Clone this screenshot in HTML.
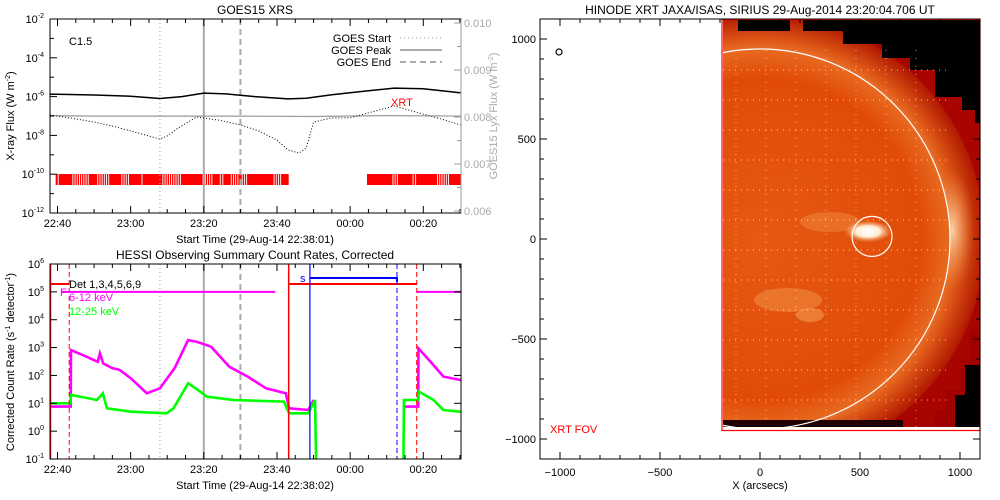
<!DOCTYPE html>
<html><head><meta charset="utf-8">
<style>
html,body{margin:0;padding:0;background:#fff;}
svg{display:block;font-family:"Liberation Sans",sans-serif;}
</style></head>
<body>
<svg id="s" width="1000" height="500" viewBox="0 0 1000 500">
<defs>
<clipPath id="imgclip"><rect x="723" y="19" width="257" height="409"/></clipPath>
<clipPath id="topclip"><rect x="50" y="19" width="411" height="194"/></clipPath>
<clipPath id="botclip"><rect x="50" y="264" width="411" height="195"/></clipPath>
<radialGradient id="disk" cx="0.5" cy="0.5" r="0.5">
<stop offset="0" stop-color="#e65a12"/>
<stop offset="0.85" stop-color="#e04c08"/>
<stop offset="1" stop-color="#e86a20"/>
</radialGradient>
<radialGradient id="corona" cx="0.5" cy="0.5" r="0.5">
<stop offset="0.8" stop-color="#f08a40"/>
<stop offset="0.88" stop-color="#e05a18"/>
<stop offset="1" stop-color="#b01800"/>
</radialGradient>
<radialGradient id="blob" cx="0.5" cy="0.5" r="0.5">
<stop offset="0" stop-color="#ffffff"/>
<stop offset="0.5" stop-color="#fff0d8"/>
<stop offset="1" stop-color="#f8a060" stop-opacity="0"/>
</radialGradient>
<radialGradient id="glow" cx="0.5" cy="0.5" r="0.5">
<stop offset="0" stop-color="#fbd0a8"/>
<stop offset="1" stop-color="#f08a40" stop-opacity="0"/>
</radialGradient>
</defs>
<g id="gtop"></g>
<g id="gbot"></g>
<g id="gimg"></g>
</svg>
<script>
// ---------- GOES data (t = minutes after 22:40, log10 flux) ----------
const goesLongT = [-2,0,10,20,28,34,40,46,54,63,68,75,85,92,100,110,112];
const goesLongV = [-5.88,-5.88,-5.92,-5.98,-6.1,-6.0,-5.82,-5.86,-6.0,-6.12,-6.08,-5.9,-5.7,-5.56,-5.6,-5.8,-5.87];
const goesShortT = [-2,0,5,10,15,20,25,28,30,33,38,44,50,55,60,63,66,68,70,75,80,86,92,100,106,112];
const goesShortV = [-6.95,-7.0,-7.15,-7.31,-7.52,-7.77,-8.03,-8.19,-8.03,-7.62,-7.05,-7.21,-7.46,-7.77,-8.24,-8.75,-8.91,-8.65,-7.31,-7.1,-7.1,-6.79,-6.48,-6.9,-7.21,-7.57];
const lyxT = [-2,10,30,50,70,90,112];
const lyxV = [0.00803,0.00802,0.00802,0.00802,0.00801,0.00803,0.00802];
const goesTickLabels = ["22:40","23:00","23:20","23:40","00:00","00:20"];
const goesYLabels = [-2,-4,-6,-8,-10,-12];
const lyxLabels = ["0.010","0.009","0.008","0.007","0.006"];
const lyxTickVals = [0.010,0.009,0.008,0.007,0.006];
const xrtBands = [[-0.5,63.2],[84.6,112]];
const xrtGaps = [0.2,4.2,4.8,5.4,6.0,6.6,7.2,7.8,8.4,11.0,11.6,12.2,12.8,13.4,14.0,17.6,18.2,18.8,19.4,23.1,28.8,29.4,30.0,30.6,31.2,31.8,32.4,33.0,33.6,39.8,40.4,41.0,41.6,42.2,44.5,45.2,47.5,48.1,48.7,49.3,50.5,51.1,51.7,59.2,59.8,60.4,61.0,91.7,92.3,92.9,97.2,97.9,103.9,104.5,105.1,105.7,106.3,106.9];
const flareStart = 28, flarePeak = 40, flareEnd = 50;
// ---------- HESSI data (log10 counts) ----------
const lowT = [-2,3.6,3.7,8,11,11.6,12.5,15,17,20,24.4,28,32,35.7,38,42,47,52,57,62.4,63.3,68.6,70];
const lowV = [0.88,0.88,2.91,2.67,2.49,2.79,2.43,2.26,2.2,1.9,1.36,1.54,2.26,3.27,3.21,3.03,2.31,1.96,1.54,1.36,0.82,0.76,1.12];
const lowT2 = [94.7,98.6,98.7,102.8,105.5,110,112];
const lowV2 = [0.88,0.88,2.97,2.37,1.96,1.84,1.78];
const highT = [-2,3.5,3.7,10.8,12.4,13.5,20,29.8,31.7,34.4,35.7,39,40.8,48,61.9,63.3,68.6,70.4,70.7];
const highV = [1.0,1.0,1.3,1.12,1.36,0.82,0.7,0.64,0.82,1.42,1.72,1.42,1.24,1.12,1.06,0.64,0.64,1.12,-1];
const highT2 = [94.6,94.7,98.6,98.8,102.8,105.5,110,112];
const highV2 = [-1,1.12,1.12,1.42,1.12,0.76,0.70,0.70];
const hessiYLabels = [6,5,4,3,2,1,0,-1];
const attStates = [[-2,3.2],[63.2,98.2]];
const saaInterval = [69,92.8];
// ---------- XRT map ----------
const mapTicks = [-1000,-500,0,500,1000];
const flareXY = [560,13];

const NS='http://www.w3.org/2000/svg';
const gTop=document.getElementById('gtop'), gBot=document.getElementById('gbot'), gImg=document.getElementById('gimg');
function el(tag,attrs,parent){const e=document.createElementNS(NS,tag);for(const k in attrs)e.setAttribute(k,attrs[k]);parent.appendChild(e);return e;}
function txt(parent,x,y,s,attrs){const e=el('text',Object.assign({x:x,y:y},attrs||{}),parent);e.textContent=s;return e;}
const xT=t=>57.5+t*3.658;
const yTop=l=>19+(-2-l)*19.4;
const yLyx=v=>23+(0.010-v)*47000;
const yBot=l=>264+(6-l)*27.86;

let e;
e=txt(gTop,255,14,'GOES15 XRS',{'text-anchor':'middle','font-size':'12'});


xrtBands.forEach(b=>{
 e=el('rect',{x:xT(b[0]),y:174,width:Math.min(461,xT(b[1]))-xT(b[0]),height:11,fill:'#ff0000'},gTop);
 
 
});
xrtGaps.forEach(g=>{
 e=el('line',{x1:xT(g),x2:xT(g),y1:174,y2:185,stroke:'#fff','stroke-width':0.9},gTop);
 
 
});
function flareLines(g,y1,y2){
 e=el('line',{x1:xT(flareStart),x2:xT(flareStart),y1:y1,y2:y2,stroke:'#aaa','stroke-width':1.2,'stroke-dasharray':'1 3'},g);
 
 
 e=el('line',{x1:xT(flarePeak),x2:xT(flarePeak),y1:y1,y2:y2,stroke:'#aaa','stroke-width':2},g);
 
 
 e=el('line',{x1:xT(flareEnd),x2:xT(flareEnd),y1:y1,y2:y2,stroke:'#aaa','stroke-width':2,'stroke-dasharray':'6 4'},g);
 
 
}
flareLines(gTop,19,213);
function pts(T,V,fx,fy){return T.map((t,i)=>fx(t).toFixed(1)+','+fy(V[i]).toFixed(1)).join(' ');}
e=el('polyline',{points:pts(lyxT,lyxV,xT,yLyx),fill:'none',stroke:'#999','stroke-width':1.2,'clip-path':'url(#topclip)'},gTop);


e=el('polyline',{points:pts(goesLongT,goesLongV,xT,yTop),fill:'none',stroke:'#000','stroke-width':1.5,'clip-path':'url(#topclip)'},gTop);


e=el('polyline',{points:pts(goesShortT,goesShortV,xT,yTop),fill:'none',stroke:'#000','stroke-width':1,'stroke-dasharray':'1 2','clip-path':'url(#topclip)'},gTop);


e=el('rect',{x:50,y:19,width:411,height:194,fill:'none',stroke:'#000','stroke-width':1},gTop);


el('line',{x1:461,x2:461,y1:19,y2:213,stroke:'#999','stroke-width':1},gTop);
function xTicks(g,yb,yt,labelY){
 for(let m=0;m<=110;m+=5){const x=xT(m);const L=m%20==0?7:4;
  el('line',{x1:x,x2:x,y1:yb,y2:yb-L,stroke:'#000'},g);
  el('line',{x1:x,x2:x,y1:yt,y2:yt+L,stroke:'#000'},g);}
 goesTickLabels.forEach((s,i)=>{e=txt(g,xT(i*20),labelY,s,{'text-anchor':'middle','font-size':'11'});
  
  });
}
xTicks(gTop,213,19,227);
for(let l=-2;l>=-12;l--){const y=yTop(l);const L=l%2==0?7:4;el('line',{x1:50,x2:50+L,y1:y,y2:y,stroke:'#000'},gTop);}
goesYLabels.forEach(l=>{const y=yTop(l);
 e=el('text',{x:44,y:y+4,'text-anchor':'end','font-size':'11'},gTop);
 
 
 e.textContent='10';const ts=el('tspan',{dy:-5,'font-size':'7'},e);ts.textContent=String(l);});
for(let v=0.006;v<=0.01001;v+=0.0005){const y=yLyx(v);const L=Math.round(v*10000)%10==0?7:4;el('line',{x1:461,x2:461-L,y1:y,y2:y,stroke:'#999'},gTop);}
lyxLabels.forEach((s,i)=>{e=txt(gTop,464,yLyx(lyxTickVals[i])+4,s,{'font-size':'11',fill:'#aaa'});
 
 });
e=txt(gTop,0,0,'',{transform:'translate(14,116) rotate(-90)','text-anchor':'middle','font-size':'11'});
e.innerHTML='X-ray Flux (W m<tspan dy="-4" font-size="7">-2</tspan><tspan dy="4">)</tspan>';


e=txt(gTop,0,0,'',{transform:'translate(497,116) rotate(-90)','text-anchor':'middle','font-size':'11',fill:'#aaa'});
e.innerHTML='GOES15 Lyx Flux (W m<tspan dy="-4" font-size="7">-2</tspan><tspan dy="4">)</tspan>';


e=txt(gTop,255,243,'Start Time (29-Aug-14 22:38:01)',{'text-anchor':'middle','font-size':'11'});


e=txt(gTop,69,45,'C1.5',{'font-size':'11'});


e=txt(gTop,391,106,'XRT',{'font-size':'11',fill:'#f00'});


[['GOES Start','1 3',1.2,45],['GOES Peak','',2,57],['GOES End','6 4',2,69]].forEach(d=>{
 const g=el('g',{},gTop);
 
 
 txt(g,391,d[3]-3,d[0],{'text-anchor':'end','font-size':'11'});
 el('line',{x1:400,x2:442,y1:d[3]-7,y2:d[3]-7,stroke:'#aaa','stroke-width':d[2],'stroke-dasharray':d[1]},g);
});

// ===== BOTTOM PANEL =====
e=txt(gBot,255,259,'HESSI Observing Summary Count Rates, Corrected',{'text-anchor':'middle','font-size':'12'});


flareLines(gBot,264,459);
[[lowT,lowV,'#ff00ff','low-energy-6-12kev'],[lowT2,lowV2,'#ff00ff','low-energy-6-12kev'],[highT,highV,'#00ff00','high-energy-12-25kev'],[highT2,highV2,'#00ff00','high-energy-12-25kev']].forEach(d=>{
 e=el('polyline',{points:pts(d[0],d[1],xT,yBot),fill:'none',stroke:d[2],'stroke-width':2.6,'clip-path':'url(#botclip)'},gBot);
 
 
});
attStates.forEach(a=>{
 e=el('line',{x1:xT(a[0]),x2:xT(a[1]),y1:284,y2:284,stroke:'#f00','stroke-width':2,'clip-path':'url(#botclip)'},gBot);
 
 
 e=el('line',{x1:xT(a[1]),x2:xT(a[1]),y1:264,y2:459,stroke:'#f00','stroke-width':1,'stroke-dasharray':'5 3'},gBot);
 
 
});
e=el('line',{x1:50.5,x2:50.5,y1:264,y2:459,stroke:'#f00','stroke-width':1.5},gBot);


e=el('line',{x1:xT(63.2),x2:xT(63.2),y1:264,y2:459,stroke:'#f00','stroke-width':1.5},gBot);


[[1,59.5],[98.2,112]].forEach(a=>{
 e=el('line',{x1:xT(a[0]),x2:xT(a[1]),y1:yBot(5),y2:yBot(5),stroke:'#ff00ff','stroke-width':2,'clip-path':'url(#botclip)'},gBot);
 
 
});
e=el('line',{x1:xT(saaInterval[0]),x2:xT(saaInterval[0]),y1:264,y2:459,stroke:'#00f','stroke-width':1.2},gBot);


e=el('polyline',{points:xT(saaInterval[0])+',278 '+xT(saaInterval[1])+',278 '+xT(saaInterval[1])+',282',fill:'none',stroke:'#00f','stroke-width':2},gBot);


e=el('line',{x1:xT(saaInterval[1]),x2:xT(saaInterval[1]),y1:264,y2:459,stroke:'#00f','stroke-width':1,'stroke-dasharray':'5 3'},gBot);


e=txt(gBot,300,282,'s',{'font-size':'11',fill:'#00f'});


e=el('rect',{x:50,y:264,width:411,height:195,fill:'none',stroke:'#000'},gBot);


xTicks(gBot,459,264,473);
hessiYLabels.forEach(l=>{const y=yBot(l);
 el('line',{x1:50,x2:57,y1:y,y2:y,stroke:'#000'},gBot);
 el('line',{x1:461,x2:454,y1:y,y2:y,stroke:'#000'},gBot);
 e=el('text',{x:44,y:y+4,'text-anchor':'end','font-size':'11'},gBot);
 
 
 e.textContent='10';const ts=el('tspan',{dy:-5,'font-size':'7'},e);ts.textContent=String(l);});
e=txt(gBot,0,0,'',{transform:'translate(14,362) rotate(-90)','text-anchor':'middle','font-size':'11'});
e.innerHTML='Corrected Count Rate (s<tspan dy="-4" font-size="7">-1</tspan><tspan dy="4"> detector</tspan><tspan dy="-4" font-size="7">-1</tspan><tspan dy="4">)</tspan>';


e=txt(gBot,255,489,'Start Time (29-Aug-14 22:38:02)',{'text-anchor':'middle','font-size':'11'});


e=txt(gBot,69,288,'Det 1,3,4,5,6,9',{'font-size':'11'});


e=txt(gBot,60,296,'F',{'font-size':'11',fill:'#ff00ff'});


e=txt(gBot,69,301,'6-12 keV',{'font-size':'11',fill:'#ff00ff'});


e=txt(gBot,69,315,'12-25 keV',{'font-size':'11',fill:'#00ff00'});



// ===== XRT MAP =====
const mx=a=>760+a*0.2, my=a=>239-a*0.2;
e=txt(gImg,760,14,'HINODE XRT JAXA/ISAS, SIRIUS 29-Aug-2014 23:20:04.706 UT',{'text-anchor':'middle','font-size':'12'});


const ig=el('g',{'clip-path':'url(#imgclip)'},gImg);


el('rect',{x:723,y:19,width:257,height:409,fill:'#a80400'},ig);
el('circle',{cx:760,cy:239,r:225,fill:'url(#corona)'},ig);
el('polygon',{points:'738,19 738,31 790,31 790,19 803,19 803,31 843,31 843,44 882,44 882,58 910,58 910,70 935,70 935,97 962,97 962,110 975,110 975,123 980,123 980,19',fill:'#000'},ig);
el('polygon',{points:'980,330 970,330 970,360 960,360 960,390 945,390 945,410 935,410 935,428 980,428',fill:'#a00000'},ig);
el('polygon',{points:'980,365 965,365 965,395 955,395 955,428 980,428',fill:'#000'},ig);
el('ellipse',{cx:952,cy:230,rx:22,ry:60,fill:'url(#glow)'},ig);
el('circle',{cx:760,cy:239,r:190,fill:'url(#disk)'},ig);
el('ellipse',{cx:788,cy:300,rx:34,ry:12,fill:'#f08a40',opacity:0.6},ig);
el('ellipse',{cx:810,cy:315,rx:14,ry:7,fill:'#f29a50',opacity:0.6},ig);
el('ellipse',{cx:830,cy:222,rx:30,ry:10,fill:'#f08a40',opacity:0.5},ig);
for(let yy=70;yy<=420;yy+=30){el('line',{x1:723,x2:950,y1:yy,y2:yy,stroke:'#fff','stroke-width':1,'stroke-dasharray':'1 5',opacity:0.7},ig);}
for(let xx=736;xx<=940;xx+=30){el('line',{x1:xx,x2:xx,y1:50,y2:428,stroke:'#fff','stroke-width':1,'stroke-dasharray':'1 7',opacity:0.6},ig);}
el('ellipse',{cx:mx(flareXY[0])-4,cy:my(flareXY[1])-5,rx:24,ry:11,fill:'url(#blob)'},ig);
el('rect',{x:723,y:420,width:180,height:7,fill:'#200000'},ig);
el('rect',{x:723,y:427,width:257,height:3,fill:'#fff'},gImg);
e=el('circle',{cx:760,cy:239,r:190,fill:'none',stroke:'#fff','stroke-width':1.2,'clip-path':'url(#imgclip)'},gImg);


e=el('circle',{cx:mx(flareXY[0]),cy:my(flareXY[1]),r:20,fill:'none',stroke:'#fff','stroke-width':1.2},gImg);


e=el('rect',{x:722,y:19.5,width:258,height:411,fill:'none',stroke:'#f00','stroke-width':1.2},gImg);


e=el('rect',{x:540,y:19,width:440,height:440,fill:'none',stroke:'#000'},gImg);


for(let a=-1000;a<=1000;a+=100){const L=a%500==0?7:4;
 el('line',{x1:mx(a),x2:mx(a),y1:459,y2:459-L,stroke:'#000'},gImg);
 el('line',{x1:mx(a),x2:mx(a),y1:19,y2:19+L,stroke:'#000'},gImg);
 el('line',{x1:540,x2:540+L,y1:my(a),y2:my(a),stroke:'#000'},gImg);
 el('line',{x1:980,x2:980-L,y1:my(a),y2:my(a),stroke:'#000'},gImg);}
mapTicks.forEach(a=>{
 e=txt(gImg,mx(a),476,String(a).replace('-','\u2212'),{'text-anchor':'middle','font-size':'11'});
 
 
 e=txt(gImg,536,my(a)+4,String(a).replace('-','\u2212'),{'text-anchor':'end','font-size':'11'});
 
 
});
e=txt(gImg,760,489,'X (arcsecs)',{'text-anchor':'middle','font-size':'11'});


e=el('circle',{cx:559,cy:52,r:3,fill:'none',stroke:'#000','stroke-width':1.2},gImg);


e=txt(gImg,550,433,'XRT FOV',{'font-size':'11',fill:'#f00'});


</script>
</body></html>
